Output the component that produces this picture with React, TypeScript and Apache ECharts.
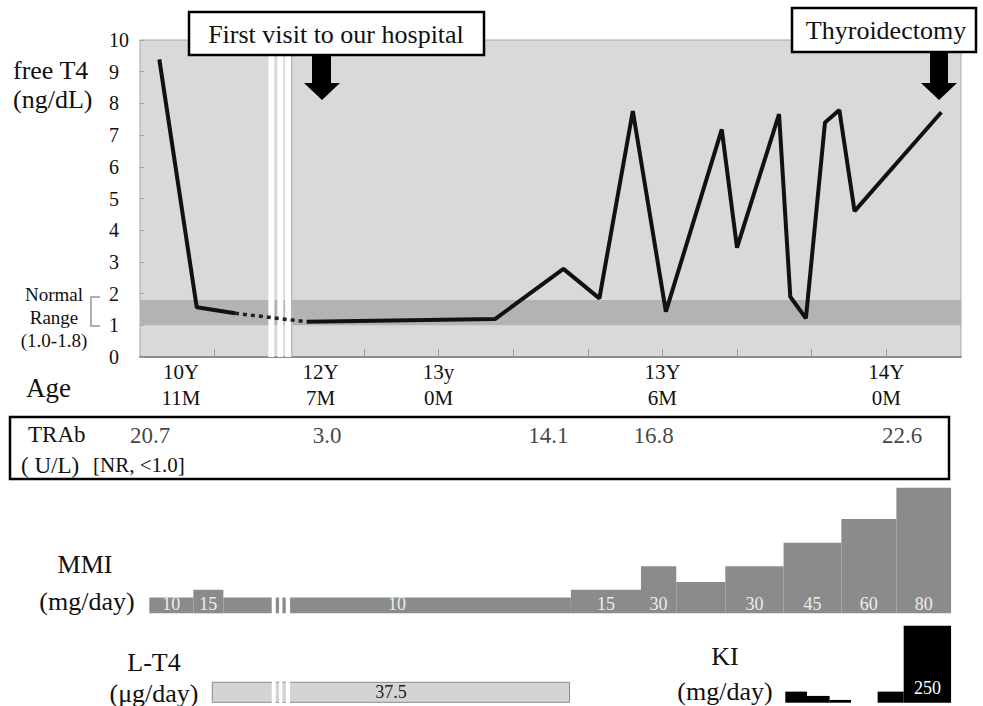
import React, { useEffect, useRef } from "react";
import * as echarts from "echarts";

const FONT = "Liberation Serif";

// free T4 course: x in units of the age-axis tick spacing, y in ng/dL
const FT4_TIME = [0.259, 0.76, 1.273, 2.235, 4.76, 5.673, 6.155, 6.603, 7.046, 7.795, 7.999, 8.562, 8.713, 8.922, 9.178, 9.37, 9.574, 10.736];
const FT4_VALUE = [9.39, 1.57, 1.38, 1.11, 1.2, 2.78, 1.85, 7.76, 1.43, 7.18, 3.45, 7.66, 1.9, 1.22, 7.4, 7.79, 4.6, 7.72];
const DOTTED_START = 2;
const DOTTED_END = 3;

const AGE_LABEL_POS = [0.55, 2.42, 4, 7, 10];
const AGE_LABELS = ["10Y\n11M", "12Y\n7M", "13y\n0M", "13Y\n6M", "14Y\n0M"];
const AGE_TICKS = [1, 2, 3, 4, 5, 6, 7, 8, 9, 10];
const AGE_MIN = 0;
const AGE_MAX = 11;
const FT4_MIN = 0;
const FT4_MAX = 10;
const FT4_STEP = 1;
const NORMAL_RANGE = [1.0, 1.8];

const TRAB_TIME = [0.134, 2.507, 5.473, 6.881, 10.21];
const TRAB_VALUE = [20.7, 3.0, 14.1, 16.8, 22.6];

const MMI_START = [0.125, 0.715, 1.117, 5.773, 6.712, 7.185, 7.842, 8.623, 9.397, 10.134];
const MMI_END = [0.715, 1.117, 5.773, 6.712, 7.185, 7.842, 8.623, 9.397, 10.134, 10.867];
const MMI_DOSE = [10, 15, 10, 15, 30, 20, 30, 45, 60, 80];
const MMI_LABELS = ["10", "15", "10", "15", "30", "", "30", "45", "60", "80"];
const MMI_MAX = 80;

const LT4_START = [0.969];
const LT4_END = [5.755];
const LT4_DOSE = [37.5];

const KI_START = [8.646, 8.937, 9.24, 9.883, 10.232];
const KI_END = [8.937, 9.24, 9.527, 10.232, 10.867];
const KI_DOSE = [36, 22, 9, 36, 250];
const KI_LABELS = ["", "", "", "", "250"];
const KI_MAX = 250;

// axis-break stripes (in age-axis units)
const BREAK_MAIN = [[1.72, 1.8], [1.84, 1.921], [1.944, 2.024]];
const BREAK_MAIN_EDGE = [2.024, 2.041];
const BREAK_LOW = [[1.765, 1.819], [1.863, 1.908], [1.953, 2.011]];

const PLOT_LEFT = 140;
const PLOT_WIDTH = 821;

function stepRender(fill: string, textFill: string, labels: string[], font: string, labelOffset: number) {
  return (params: any, api: any) => {
    const s = api.value(0);
    const e = api.value(1);
    const v = api.value(2);
    const p0 = api.coord([s, v]);
    const p1 = api.coord([e, 0]);
    const children: any[] = [
      {
        type: "rect",
        shape: { x: p0[0], y: p0[1], width: p1[0] - p0[0], height: p1[1] - p0[1] },
        style: { fill },
      },
    ];
    const lab = labels[params.dataIndex];
    if (lab) {
      children.push({
        type: "text",
        x: (p0[0] + p1[0]) / 2,
        y: p1[1] - labelOffset,
        style: { text: lab, fill: textFill, font, align: "center", verticalAlign: "middle", textAlign: "center", textVerticalAlign: "middle" },
      });
    }
    return { type: "group", children };
  };
}

function breakRender(params: any, api: any) {
  const a = api.coord([api.value(0), 0]);
  const b = api.coord([api.value(1), 0]);
  const cs = params.coordSys;
  return {
    type: "rect",
    shape: { x: a[0], y: cs.y - 1, width: b[0] - a[0], height: cs.height + 2 },
    style: { fill: "#ffffff" },
  };
}

function txt(text: string, x: number, y: number, size: number, align = "left", fill = "#111") {
  return {
    type: "text",
    z: 100,
    x,
    y,
    style: {
      text,
      fill,
      font: `${size}px ${FONT}`,
      align,
      verticalAlign: "middle",
      textAlign: align,
      textVerticalAlign: "middle",
    },
  };
}

function hiddenX(gridIndex: number) {
  return { gridIndex, type: "value", min: AGE_MIN, max: AGE_MAX, show: false };
}

export default function App() {
  const ref = useRef<HTMLDivElement>(null);
  useEffect(() => {
    const chart = echarts.init(ref.current!, null, { renderer: "svg" });
    const ft4 = FT4_TIME.map((t, i) => [t, FT4_VALUE[i]]);
    const lineStyle = { color: "#111", width: 4 };
    const option: any = {
      animation: false,
      textStyle: { fontFamily: FONT },
      grid: [
        { left: PLOT_LEFT, top: 40, width: PLOT_WIDTH, height: 317, show: true, backgroundColor: "#d9d9d9", borderColor: "#a8a8a8", borderWidth: 1 },
        { left: PLOT_LEFT, top: 425, width: PLOT_WIDTH, height: 20 },
        { left: PLOT_LEFT, top: 487.7, width: PLOT_WIDTH, height: 125.6 },
        { left: PLOT_LEFT, top: 682.3, width: PLOT_WIDTH, height: 20 },
        { left: PLOT_LEFT, top: 625.7, width: PLOT_WIDTH, height: 77 },
      ],
      xAxis: [
        {
          gridIndex: 0,
          type: "value",
          min: AGE_MIN,
          max: AGE_MAX,
          interval: 1,
          axisLine: { show: true, lineStyle: { color: "#8c8c8c", width: 2 } },
          axisTick: { show: true, inside: true, length: 8, customValues: AGE_TICKS, lineStyle: { color: "#9a9a9a", width: 1 } },
          axisLabel: {
            show: true,
            customValues: AGE_LABEL_POS,
            formatter: (v: number) => {
              let best = 0;
              AGE_LABEL_POS.forEach((p, i) => {
                if (Math.abs(p - v) < Math.abs(AGE_LABEL_POS[best] - v)) best = i;
              });
              return AGE_LABELS[best];
            },
            fontSize: 21,
            lineHeight: 26,
            margin: 2,
            color: "#111",
            fontFamily: FONT,
          },
          splitLine: { show: false },
        },
        hiddenX(1),
        hiddenX(2),
        hiddenX(3),
        hiddenX(4),
      ],
      yAxis: [
        {
          gridIndex: 0,
          type: "value",
          min: FT4_MIN,
          max: FT4_MAX,
          interval: FT4_STEP,
          axisLine: { show: false },
          axisTick: { show: true, inside: true, length: 4, lineStyle: { color: "#a0a0a0" } },
          axisLabel: { align: "left", margin: 31, fontSize: 20, color: "#111", fontFamily: FONT, padding: [10, 0, 0, 0] },
          splitLine: { show: false },
        },
        { gridIndex: 1, type: "value", min: 0, max: 1, show: false },
        { gridIndex: 2, type: "value", min: 0, max: MMI_MAX, show: false },
        { gridIndex: 3, type: "value", min: 0, max: 1, show: false },
        { gridIndex: 4, type: "value", min: 0, max: KI_MAX, show: false },
      ],
      series: [
        {
          type: "line",
          xAxisIndex: 0,
          yAxisIndex: 0,
          z: 3,
          data: ft4.slice(0, DOTTED_START + 1),
          showSymbol: false,
          symbol: "none",
          lineStyle,
          markArea: {
            silent: true,
            data: [
              [{ yAxis: NORMAL_RANGE[0], itemStyle: { color: "#b3b3b3" } }, { yAxis: NORMAL_RANGE[1] }],
              ...BREAK_MAIN.map((b) => [{ xAxis: b[0], itemStyle: { color: "#ffffff" } }, { xAxis: b[1] }]),
              [{ xAxis: BREAK_MAIN_EDGE[0], itemStyle: { color: "#b5b5b5" } }, { xAxis: BREAK_MAIN_EDGE[1] }],
            ],
          },
        },
        {
          type: "line",
          xAxisIndex: 0,
          yAxisIndex: 0,
          z: 3,
          data: ft4.slice(DOTTED_START, DOTTED_END + 1),
          showSymbol: false,
          symbol: "none",
          lineStyle: { color: "#222", width: 3.5, type: [4, 4], cap: "butt" },
        },
        {
          type: "line",
          xAxisIndex: 0,
          yAxisIndex: 0,
          z: 3,
          data: ft4.slice(DOTTED_END),
          showSymbol: false,
          symbol: "none",
          lineStyle,
        },
        {
          type: "scatter",
          xAxisIndex: 1,
          yAxisIndex: 1,
          data: TRAB_TIME.map((t, i) => [t, 0.5, TRAB_VALUE[i]]),
          symbolSize: 0.1,
          itemStyle: { color: "transparent" },
          label: {
            show: true,
            position: "inside",
            formatter: (p: any) => Number(p.value[2]).toFixed(1),
            color: "#111",
            fontSize: 23,
            fontFamily: FONT,
          },
        },
        {
          type: "custom",
          xAxisIndex: 2,
          yAxisIndex: 2,
          z: 2,
          data: MMI_START.map((s, i) => [s, MMI_END[i], MMI_DOSE[i]]),
          encode: { x: [0, 1], y: 2 },
          renderItem: stepRender("#8b8b8b", "#ededed", MMI_LABELS, `18px ${FONT}`, 9),
        },
        {
          type: "custom",
          xAxisIndex: 2,
          yAxisIndex: 2,
          z: 5,
          data: BREAK_LOW,
          encode: { x: [0, 1] },
          renderItem: breakRender,
        },
        {
          type: "custom",
          xAxisIndex: 3,
          yAxisIndex: 3,
          z: 2,
          data: LT4_START.map((s, i) => [s, LT4_END[i], 1, LT4_DOSE[i]]),
          encode: { x: [0, 1], y: 2 },
          renderItem: (params: any, api: any) => {
            const p0 = api.coord([api.value(0), api.value(2)]);
            const p1 = api.coord([api.value(1), 0]);
            return {
              type: "group",
              children: [
                {
                  type: "rect",
                  shape: { x: p0[0], y: p0[1], width: p1[0] - p0[0], height: p1[1] - p0[1] },
                  style: { fill: "#d4d4d4", stroke: "#8a8a8a", lineWidth: 1 },
                },
                {
                  type: "text",
                  x: (p0[0] + p1[0]) / 2,
                  y: (p0[1] + p1[1]) / 2,
                  style: { text: String(api.value(3)), fill: "#222", font: `18px ${FONT}`, align: "center", verticalAlign: "middle", textAlign: "center", textVerticalAlign: "middle" },
                },
              ],
            };
          },
        },
        {
          type: "custom",
          xAxisIndex: 3,
          yAxisIndex: 3,
          z: 5,
          data: BREAK_LOW,
          encode: { x: [0, 1] },
          renderItem: breakRender,
        },
        {
          type: "custom",
          xAxisIndex: 4,
          yAxisIndex: 4,
          z: 2,
          data: KI_START.map((s, i) => [s, KI_END[i], KI_DOSE[i]]),
          encode: { x: [0, 1], y: 2 },
          renderItem: stepRender("#000000", "#ffffff", KI_LABELS, `18px ${FONT}`, 15),
        },
      ],
      graphic: [
        txt("free T4", 13, 70, 26),
        txt("(ng/dL)", 13, 99, 26),
        txt("Normal", 54, 294, 19, "center"),
        txt("Range", 54, 317, 19, "center"),
        txt("(1.0-1.8)", 54, 340, 19, "center"),
        {
          type: "polyline",
          z: 100,
          shape: { points: [[100, 297], [91, 297], [91, 326], [100, 326]] },
          style: { stroke: "#b0b0b0", lineWidth: 2, fill: null },
        },
        txt("Age", 26, 388, 27),
        {
          type: "rect",
          z: 100,
          shape: { x: 189, y: 12, width: 295, height: 43 },
          style: { fill: "#ffffff", stroke: "#000", lineWidth: 2.5 },
        },
        txt("First visit to our hospital", 336, 34, 26, "center"),
        {
          type: "polygon",
          z: 100,
          shape: { points: [[312, 55], [331, 55], [331, 83], [340, 83], [322, 100], [304, 83], [312, 83]] },
          style: { fill: "#000" },
        },
        {
          type: "rect",
          z: 100,
          shape: { x: 792, y: 8, width: 184, height: 44 },
          style: { fill: "#ffffff", stroke: "#000", lineWidth: 2.5 },
        },
        txt("Thyroidectomy", 886, 30, 26, "center"),
        {
          type: "polygon",
          z: 100,
          shape: { points: [[930, 52], [948, 52], [948, 83], [957, 83], [939, 100], [921, 83], [930, 83]] },
          style: { fill: "#000" },
        },
        {
          type: "rect",
          z: 100,
          shape: { x: 10, y: 417, width: 939, height: 62 },
          style: { fill: null, stroke: "#000", lineWidth: 2.5 },
        },
        txt("TRAb", 28, 434, 23),
        txt("( U/L)", 21, 465, 23),
        txt("[NR, <1.0]", 93, 465, 21),
        txt("MMI", 85, 564, 26, "center"),
        txt("(mg/day)", 87, 601, 26, "center"),
        txt("L-T4", 154, 662, 26, "center"),
        txt("(\u03bcg/day)", 154, 693, 26, "center"),
        txt("KI", 725, 656, 26, "center"),
        txt("(mg/day)", 725, 691, 26, "center"),
      ],
    };
    chart.setOption(option);
    return () => chart.dispose();
  }, []);
  return (
    <div
      ref={ref}
      style={{ position: "fixed", left: 0, top: 0, width: 983, height: 706, background: "#ffffff" }}
    />
  );
}
